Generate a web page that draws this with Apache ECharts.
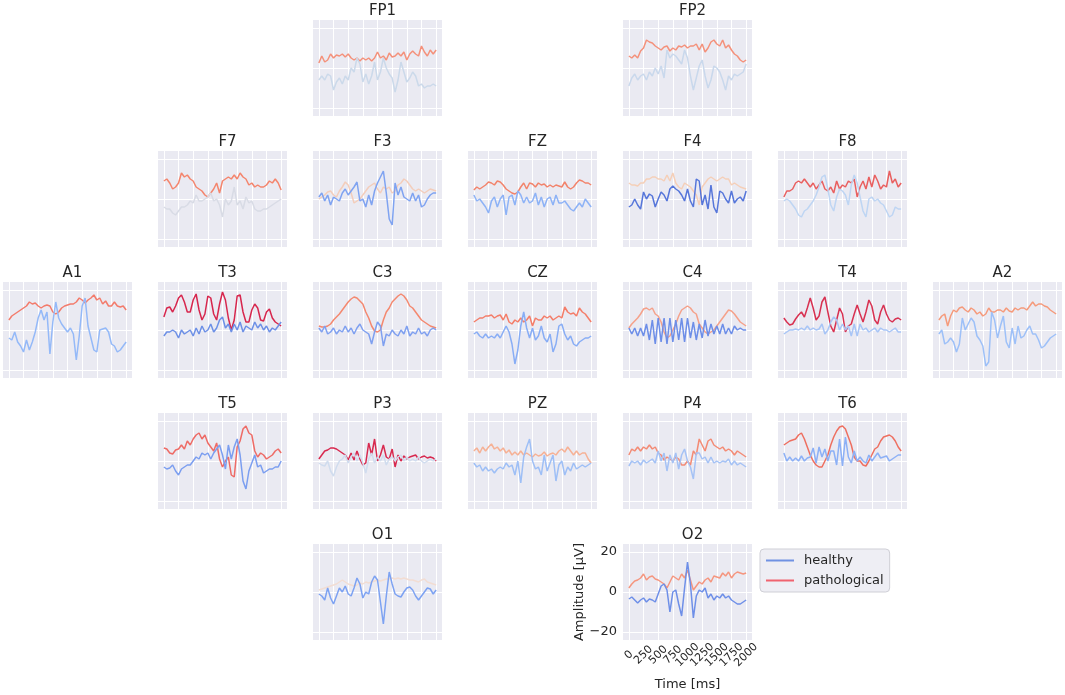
<!DOCTYPE html>
<html>
<head>
<meta charset="utf-8">
<title>EEG channels</title>
<script src="https://cdn.jsdelivr.net/npm/echarts/dist/echarts.min.js"></script>
<style>
    html, body { margin: 0; padding: 0; background: #ffffff; }
    #chart { width: 1065px; height: 695px; }
</style>
</head>
<body>
<div id="chart"></div>
<script>
// 时间轴 (ms)，每 50ms 一个点
var times = [0, 50, 100, 150, 200, 250, 300, 350, 400, 450, 500, 550, 600, 650, 700, 750, 800, 850, 900, 950,
    1000, 1050, 1100, 1150, 1200, 1250, 1300, 1350, 1400, 1450, 1500, 1550, 1600, 1650, 1700, 1750, 1800, 1850, 1900, 1950, 2000];
var xTicks = [0, 250, 500, 750, 1000, 1250, 1500, 1750, 2000];
var yTicks = [-20, 0, 20];
var seriesNames = ['healthy', 'pathological'];

// 各通道数据 (µV)
var healthyFP1 = [-6, -4, -6, -3, -4, -11, -7, -5, -8, -4, -6, 0, -2, 5, 2, -7, -3, -8, -4, 3, -6, -2, 5, 0, -3, -5, -12, -6, 3, -2, -7, -5, -2, -4, -9, -8, -10, -9, -9, -8, -9];
var pathoFP1 = [2.5, 6, 3, 4, 7, 5, 6.5, 6, 7, 5.5, 7, 5, 4, 5, 3.5, 5, 4, 5, 3.5, 5, 8, 5, 6, 4, 7.5, 5.5, 6, 7.5, 6, 8, 4, 7, 8.5, 7, 6, 11, 8, 6, 9, 7, 9];
var healthyFP2 = [-9, -5, -3, -6, -4, -3, -6, -2, -4, 0, -3, 1, -5, 9, 5, 7, 6, 4, 2, 9, 5, -4, -11, -5, 1, 4, -4, -10, -6, 1, 0, -2, -6, -11, -4, -6, -3, -4, -3, -2, 2];
var pathoFP2 = [6, 5, 6.5, 5, 8.5, 10, 14, 13, 12.5, 11, 10, 9, 10.5, 11, 8.5, 10, 9, 11, 10.5, 11.5, 10, 11, 11, 12, 9, 12, 8, 10, 13, 14, 12, 11, 14, 10, 11.5, 9, 7, 6, 4, 3, 4];
var healthyF7 = [-4, -5, -5, -7, -8, -6, -4, -4, -3, -1, -2, 2, -1, -1, 0, 1, 3, -1, 0, -3, -9, 0, -3, -1, 6, -3, -1, -5, 1, -2, -1, -5, -6, -6, -5, -5, -4, -3, -2, -1, 0];
var pathoF7 = [9, 10, 8, 5, 6, 8, 13, 11, 12, 10, 9, 6, 5, 4, 2, 1, 3, 5, 8, 3, 9, 10, 11, 10, 12, 10, 13, 11, 10, 7, 8, 6, 7, 6, 6, 7, 9, 8, 10, 8, 4.5];
var healthyF3 = [1, 3, -1, 2, -3, 1, 0, -1, 3, 5, 2, 4, 6, 8.5, -1, 0, -4, 2, -3, 4, 8, 11, 14, 3, -10, -13, 8, 2, 6, 1, 0, -1, 3, -1, 2, -4, -3, 0, 2, 3, 3];
var pathoF3 = [0, 1, 2, 3.5, 4, 2, 1, 4, 6, 8.5, 7, 3, -2, -1, 0, 2, 4, 6, 7, 8, 5, 3, 6, 5, 6, 3, 4, 7, 8, 10, 9, 7, 5, 4, 5, 4, 3, 4, 5, 4.5, 4];
var healthyFZ = [2, -1, 0, -2, -4, -7, -1, 1, -4, 0, 2, -8, 1, 2, -3, 4, 2, -2, 1, -2, -1, 3, -3, 1, -4, 0, 1, -3, 2, -2, -2, -1, -3, -5, -6, -4, -2, -4, 0, -2, -4];
var pathoFZ = [4.5, 6, 5, 6, 7, 8.5, 8, 7, 9, 8.5, 7, 5, 4, 3, 2.5, 3.5, 6, 8, 5, 8, 7.5, 6, 8, 7, 7.5, 6, 7, 6, 7, 6.5, 6, 8.5, 6, 5, 6, 8, 9.5, 9, 8, 8, 7];
var healthyF4 = [-4, -3, 0, -3, -5, 3.5, 0, 2.5, 1.5, -4, 0, 3.5, 2, -1, 5, 6.5, 5, 4, 2, -1, 5, -1, -4, 10, 9, -3, 2, -5, 7, -4, -7, 4, 3, 0, -2, 4, -2, 0, 1, -1, 4];
var pathoF4 = [8, 7, 7, 6.5, 8, 8, 10, 10, 11, 11, 10, 10, 9, 12, 9, 13, 8, 6, 5, 8, 7, 6, 4, 2, -3, 6, 8, 10, 11, 10, 9, 10, 11, 10, 10, 7, 8, 7, 6, 5.5, 5];
var healthyF8 = [-1, 0, -1, -3, -5, -8, -9, -6, -5, -3, -1, 2, 6, 11, 12, 5, -3, -6, 1, 5, 4, 2, -3, 7, 12, 8, 1, -6, -9, 0, 1, -1, 0, -2, -3, -6, -9, -8, -4, -5, -5];
var pathoF8 = [1, 4, 4, 5, 8, 9, 8, 10, 8, 6, 8, 5, 7, 9, 5, 4, 6, 3, 9, 5, 7, 6, 9, 8, 10, 1, 6, 9, 5, 11, 6, 12, 9, 5, 7, 6, 14, 8, 10, 6, 8];
var healthyA1 = [-4, -5, -1, -6, -8, -11, -5, -10, -6, -1, 6, 10, 5, 9, -12, 4, 14, 6, 3, 1, -1, 1, -2, -15, -3, 12, 16, 2, -4, -10, -11, 0, 0.5, 1, -1, -7, -8, -11, -10, -8, -6];
var pathoA1 = [5, 7, 8, 9, 10, 11, 12, 14, 13, 13.5, 12, 11, 12, 12.5, 12, 9, 8, 9, 11, 12, 12.5, 13, 13, 14, 16, 15, 13.5, 15, 16, 17.5, 15, 16, 13, 14.5, 12, 12, 14, 12, 11.5, 12, 10];
var healthyT3 = [-3, -1, -1, 0, -1, -4, 0, -2, -1, 0, -3, 1, -2, 2, -1, 0, 3, -1, 1, 5, 6.5, 1, 3, -1, 3, 0, 4, -1, 2, 1, 0, 4, 1, 3, 0, 2, -1, 1, 0, 2, 4];
var pathoT3 = [6.5, 11, 11.5, 9, 12, 16, 17.5, 14, 9, 9, 15, 18, 10, 5, 8, 17, 16, 8, 5, 13, 19, 15, 6, 0, 5, 17, 17.5, 9, 4, 4, 10, 13, 11, 5, 4.5, 9, 10.5, 6, 4, 3, 2];
var healthyC3 = [1, -1, 2, -2, -1, 1, -2, 0, -1, 2, -1, 1, -2, 1, 3, 0, -1, -2, -7, -1, 4, 2, -8, -2, -3, 0, -2, -3, 0, -2, 2, -3, -1, -2, 1, -2, -1, -3, 0, 1, 0];
var pathoC3 = [2, 1.5, 1.5, 2, 3, 5, 6.5, 8, 10, 12, 14, 15.5, 16.5, 16, 14.5, 13, 9, 6, 2, -0.5, -1, 0, 5, 9, 11, 14, 15.5, 17, 18, 17, 15, 12, 11, 9, 7, 5, 4, 3, 2, 1.5, 1];
var healthyCZ = [-2, -1, -3, -4, -2, -4, -3, -4, -2, -4, -1, 2, -1, -7, -17, -10, 2, 9, 1, -4, 1, -5, -3, 2, -4, -6, -2, -11, -7, 2, 3, -2, -5, -3, -7, -8, -6, -5, -4, -4, -3];
var pathoCZ = [4, 5, 6, 6, 7, 7, 7.5, 6, 7, 7.5, 5, 8, 4, 3, 5, 4, 6, 4, 5, 7, 2, 6, 5, 5, 7, 6, 7, 5, 6, 7, 6, 11.5, 9, 8, 8.5, 7, 11, 9, 8, 6, 4];
var healthyC4 = [1, -2, 1, -3, 1, -3, 3, -5, 5, -7, 6, -6, 6, -7, 6, -6, 5, -5, 6, -6, 6, -4, 4, -5, 3, -4, 5, -3, 3, -2, 2, -2, 3, -2, 1, -2, 2, 0, 1, 0, 0];
var pathoC4 = [1, 3, 4.5, 6, 8, 10.5, 11, 10, 11, 8, 7, 4, -1, -4, -3, 0, 3, 7, 10, 11, 12, 11, 9, 8, 3, 1, -1, -2, -1, 0, 2, 4, 6, 8, 10, 9.5, 8, 6, 4, 3, 2];
var healthyT4 = [-2, -1, 0, 0, 0.5, 0, 1, 0, 2, 0, 1, 0, 0.5, 3, -2, 0, 4, 6.5, 5, 0, 3, 0, 2, -3, 3, -3, 3, 0, 1, -1, 0, 1, -1, 1, 0, 0, -1, 0, 1, -1, -1];
var pathoT4 = [6, 4, 2.5, 3, 5.5, 7.5, 9, 6.5, 11, 16, 11, 5, 7, 14, 16.5, 9, 2, -1, 5, 11, 8, -1, 2, 3, 8, 12.5, 8, 4, 9, 15, 12, 5, 3, 9, 12.5, 8, 5, 4, 5.5, 6, 5];
var healthyA2 = [-2, 0, -7, -6, -4, -6, -11, -7, 6, 0, 3, 6, 4, -3, -5, -8, -18, -16, 9, 5, -4, 2, 7, -6, -9, 1, -7, 2, -4, -3, 0, 2, -2, -2, -5, -9, -8, -6, -4, -3, -2];
var pathoA2 = [5, 7, 8, 2, 7, 10, 9, 11, 11.5, 10, 9, 11, 10, 8, 9, 7, 8, 11, 9, 9, 10, 10, 9, 11, 9.5, 9, 11, 10, 11, 11, 10, 12, 14, 12, 13, 13, 12, 11.5, 10, 9, 8];
var healthyT5 = [-3, -4, -3.5, -2, -5, -7, -4, -3, -2, -2, 0, 2, 1, 4, 3, 4, 1, 4, 6, 8, 3, -4, 8, 1, 7, 11, 3, -10, -14, -5, -1, 3, -3, -2, -6, -5, -4, -4, -3, -3, 0];
var pathoT5 = [6.5, 6, 4, 3.5, 5.5, 6, 8, 6, 10, 8, 11, 13, 14, 11, 13, 9, 7, 5, 9, 1, -3, 0, 2, -7, -8, 7, 10, 16, 17.5, 14, 13, 5, 2, 4, 3, 1, 2, 3, 5, 6, 4];
var healthyP3 = [-1, -2, -2.5, 0, -5, -7.5, -3, 0, 1, 3, -1, 2, 4, 0, 3, -1, -6, 1, 4, -1, 2, 0, 3, -2, 1, 2, 0, 2, 3, 0, 2, 0, 1, 0, 2, 0, -1, 0, 1, 0, 1];
var pathoP3 = [1, 3, 5, 5.5, 6.5, 6.5, 6, 5, 4, 3, 0.5, 4, 0.5, 5, 1, -2, -1, 9, 3, 11, 0, 3, 8, 2, 1, 6, -3, 3, 0, 2.5, 1, 2, 2.5, 3, 1, 2, 2.5, 1.5, 2, 1.5, 0];
var healthyPZ = [-1, -3, -2, -5, -3, -5, -4, -6, -4, -3, -4, -1, -3, -2, -7, 0, -11, 2, 7, 11, 0, -4, -3, -7, 3, -5, -1, 3, -10, -2, 0, -7, -3, -5, -1, -4, -3, -2, -3, -2, -1];
var pathoPZ = [5, 6.5, 4, 7, 5, 7, 8.5, 6, 7, 5, 6.5, 4, 5.5, 3, 4.5, 3, 5, 3, 4, 3, 2, 3.5, 2.5, 3, 4.5, 2.5, 3.5, 4, 3, 5, 6, 4.5, 7, 5, 3, 5, 3, 4, 4, 1, -1];
var healthyP4 = [-2.5, 0, -1, 0, -2, 0.5, -1, 0, 1, -1, 5, 0, 4, -5, 3, -1, 4, -4, 3, 6, 0, -3, -9, 4, 4, 1, 2, -1, 2, -1, 0, -1, 0, -0.5, 1, -2, 0, -2, -1, -2, -3];
var pathoP4 = [3, 6, 5, 7, 5, 7, 6, 8, 6, 7, 4, 3, 0.5, 2, 1, 0, 2, 1, -2, -2, 0, -2, 5, 3, 11, 8, 5, 10, 11, 8, 7, 6, 7, 5, 6, 5, 3, 5, 4, 3, 2];
var healthyT6 = [4, 0, 2, 0, 1.5, 0, 2.5, 0, 1.5, 2, 6.5, -1, 7, 2, 6, 0, 5, 5, -2, 11, -2.5, 12, 2, -1, 5, 0, 2, 0, -1, 3, 0, 2, 4, 1.5, 2, 2.5, 0, 1, 2, 3, 3];
var pathoT6 = [8, 9, 10, 10.5, 11, 13, 14, 11, 7, 3, 0, -2, -3, -3, 0, 3, 8, 12, 15, 17, 17.5, 16, 12, 8, 2, 0, 0, -2, -2.5, 0, 3, 6, 7, 10, 12, 12.5, 13, 12, 10, 7, 5];
var healthyO1 = [-1, -2, -4, 2, -3, -6, -2, 2, 0, 3, -1, -2, 2, 7, 4, -3, 0, -1, 5, 8, 6, -5, -16, -2, 10, 4, -1, -2, -2.5, 0, 2, 2.5, 1, -2, -4, -2, 0, 2, 1.5, -1, 1];
var pathoO1 = [1, 1.5, 2, 2.5, 3, 3.5, 4, 5, 6, 5, 4, 3.5, 3, 3.5, 4.5, 4, 5, 4.5, 5, 5.5, 6, 5.5, 6, 6.5, 6.5, 7, 6.5, 7, 6.5, 7, 6.5, 6, 6, 5.5, 5, 6, 6.5, 5, 4.5, 4, 3.5];
var healthyO2 = [-3.5, -2.5, -4, -5.5, -4, -3, -5, -3.5, -4, -5, -1, 3, 4, 1, -10, 0, 1, -6, -12, 2, 15, 4, -13, -2, 1, 0, 2, -3, -1, -4, -2, -3, -1, -3, -2, -4, -5, -6, -6, -5, -4];
var pathoO2 = [2, 4, 5.5, 6, 7, 9, 6, 7.5, 8, 6.5, 6, 5, 4, 2, 5, 8, 7, 6, 9, 7, 11, 6, 1, 3, 5, 4, 6, 7, 5, 8, 7.5, 7, 9.5, 8, 10, 7, 9, 10, 9.5, 9, 9.5];

(function () {
    var myChart = echarts.init(document.getElementById('chart'));

    // 版面：列的左边、行的顶部
    var colLeft = [3, 158, 313, 468, 623, 778, 933];
    var rowTop = [20, 151, 282, 413, 544];
    var plotW = 129, plotH = 96;
    var xMin = -100, xMax = 2100;
    var textColor = '#262626';
    var font = 'DejaVu Sans';

    // 标签两端各加一个空标签，避免 ECharts 隐藏紧挨着首尾的刻度标签
    var xLabelValues = [xMin].concat(xTicks, [xMax]);

    // [通道, 列, 行, healthy, pathological, healthy颜色, pathological颜色]
    var channels = [
        ['FP1', 2, 0, healthyFP1, pathoFP1, '#cbd9ea', '#f4917b'],
        ['FP2', 4, 0, healthyFP2, pathoFP2, '#c9d8ec', '#f4917b'],
        ['F7', 1, 1, healthyF7, pathoF7, '#d8dbe5', '#f4856d'],
        ['F3', 2, 1, healthyF3, pathoF3, '#7fa3f1', '#f3cdbb'],
        ['FZ', 3, 1, healthyFZ, pathoFZ, '#8db2f6', '#f2836b'],
        ['F4', 4, 1, healthyF4, pathoF4, '#5676da', '#f5cfb8'],
        ['F8', 5, 1, healthyF8, pathoF8, '#bed5f3', '#e95f5f'],
        ['A1', 0, 2, healthyA1, pathoA1, '#94b9f8', '#f37b6b'],
        ['T3', 1, 2, healthyT3, pathoT3, '#6d90e6', '#d7264d'],
        ['C3', 2, 2, healthyC3, pathoC3, '#7fa0f0', '#f4886f'],
        ['CZ', 3, 2, healthyCZ, pathoCZ, '#88adf5', '#f47d69'],
        ['C4', 4, 2, healthyC4, pathoC4, '#6d8ee8', '#f5a18a'],
        ['T4', 5, 2, healthyT4, pathoT4, '#a8c5f6', '#d83151'],
        ['A2', 6, 2, healthyA2, pathoA2, '#9dc0f8', '#f59a7b'],
        ['T5', 1, 3, healthyT5, pathoT5, '#7b9ef0', '#ee6b66'],
        ['P3', 2, 3, healthyP3, pathoP3, '#d0dcee', '#d8294f'],
        ['PZ', 3, 3, healthyPZ, pathoPZ, '#9ebff6', '#f6b195'],
        ['P4', 4, 3, healthyP4, pathoP4, '#a5c2f5', '#f38b75'],
        ['T6', 5, 3, healthyT6, pathoT6, '#8cb0f6', '#ee6f60'],
        ['O1', 2, 4, healthyO1, pathoO1, '#7da2f2', '#f2ddd3'],
        ['O2', 4, 4, healthyO2, pathoO2, '#6e8fe8', '#f5967f']
    ];

    function pairs(values) {
        return times.map(function (t, k) { return [t, values[k]]; });
    }

    function minus(v) {
        return v < 0 ? '\u2212' + (-v) : String(v);
    }

    function timeLabel(v) {
        return (v === xMin || v === xMax) ? '' : String(v);
    }

    var grid = [], xAxis = [], yAxis = [], title = [], series = [];

    channels.forEach(function (ch, i) {
        var left = colLeft[ch[1]], top = rowTop[ch[2]];
        var labelled = ch[0] === 'O2';

        grid.push({
            left: left, top: top, width: plotW, height: plotH,
            show: true, backgroundColor: '#EAEAF2', borderWidth: 0,
            containLabel: false, outerBoundsMode: 'none'
        });

        xAxis.push({
            gridIndex: i, type: 'value', min: xMin, max: xMax,
            axisLine: { show: false },
            axisTick: { show: false, customValues: xTicks },
            axisLabel: {
                show: labelled, customValues: xLabelValues, rotate: 45,
                align: 'center', verticalAlign: 'middle', margin: 15,
                showMinLabel: false, showMaxLabel: false, hideOverlap: false,
                fontSize: 11, color: textColor, fontFamily: font,
                formatter: timeLabel
            },
            splitLine: { show: true, customValues: xTicks, lineStyle: { color: '#ffffff', width: 1 } },
            name: labelled ? 'Time [ms]' : '',
            nameLocation: 'middle', nameGap: 38,
            nameTextStyle: { fontSize: 13, color: textColor, fontFamily: font }
        });

        yAxis.push({
            gridIndex: i, type: 'value', min: -24, max: 24,
            axisLine: { show: false },
            axisTick: { show: false, customValues: yTicks },
            axisLabel: {
                show: labelled, customValues: yTicks, margin: 6,
                fontSize: 13, color: textColor, fontFamily: font,
                formatter: minus
            },
            splitLine: { show: true, customValues: yTicks, lineStyle: { color: '#ffffff', width: 1 } },
            name: labelled ? 'Amplitude [\u00b5V]' : '',
            nameLocation: 'middle', nameGap: 36,
            nameTextStyle: { fontSize: 13, color: textColor, fontFamily: font }
        });

        title.push({
            text: ch[0], left: left + plotW / 2, top: top - 21, textAlign: 'center',
            textStyle: { fontSize: 15, fontWeight: 'normal', color: textColor, fontFamily: font }
        });

        series.push({
            name: seriesNames[1], type: 'line', xAxisIndex: i, yAxisIndex: i,
            data: pairs(ch[4]), symbol: 'none', silent: true, z: 2,
            lineStyle: { width: 1.5, color: ch[6] }, itemStyle: { color: ch[6] }
        });
        series.push({
            name: seriesNames[0], type: 'line', xAxisIndex: i, yAxisIndex: i,
            data: pairs(ch[3]), symbol: 'none', silent: true, z: 3,
            lineStyle: { width: 1.5, color: ch[5] }, itemStyle: { color: ch[5] }
        });
    });

    var option = {
        animation: false,
        backgroundColor: '#ffffff',
        title: title,
        grid: grid,
        xAxis: xAxis,
        yAxis: yAxis,
        legend: {
            left: 760, top: 549, orient: 'vertical', selectedMode: false,
            data: [
                { name: seriesNames[0], icon: 'rect', itemStyle: { color: '#7092e3' } },
                { name: seriesNames[1], icon: 'rect', itemStyle: { color: '#f0636f' } }
            ],
            itemWidth: 28, itemHeight: 2, itemGap: 7,
            padding: [5, 6, 5, 6],
            backgroundColor: 'rgba(236,236,243,0.9)',
            borderColor: '#cfcfd6', borderWidth: 1, borderRadius: 4,
            textStyle: { fontSize: 13, color: textColor, fontFamily: font, padding: [0, 0, 0, 5] }
        },
        series: series
    };

    myChart.setOption(option);

    window.addEventListener('resize', function () {
        myChart.resize();
    });
})();
</script>
</body>
</html>
